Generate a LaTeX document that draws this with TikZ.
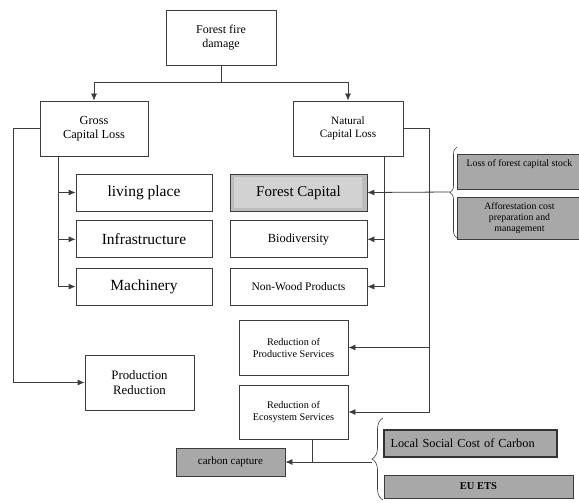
\documentclass[tikz,border=0pt]{standalone}
\usepackage{fontspec}
\setmainfont{Liberation Serif}
\usetikzlibrary{arrows.meta,positioning,decorations.pathreplacing}

\definecolor{linegray}{HTML}{3C3C3C}
\definecolor{darkfill}{HTML}{A8A8A8}
\definecolor{midfill}{HTML}{BDBDBD}
\definecolor{lightfill}{HTML}{D2D2D2}

\tikzset{
  box/.style={draw=linegray,line width=0.8pt,fill=white,align=center,inner sep=2pt},
  bigbox/.style={box,minimum width=136pt,minimum height=37pt,font=\fontsize{15.5}{17}\selectfont},
  greybox/.style={box,fill=darkfill},
  conn/.style={draw=linegray,line width=0.8pt},
  arr/.style={conn,-{Latex[length=7pt,width=6pt]}},
  curly/.style={conn,line width=0.6pt,decorate,decoration={brace}}
}

\begin{document}
\begin{tikzpicture}[x=1pt,y=-1pt]
\useasboundingbox (0,0) rectangle (579,503);

% top level
\node[box,minimum width=110pt,minimum height=55pt,font=\fontsize{12}{14}\selectfont] (fire) at (221,37.5) {Forest fire\\damage};
\node[box,minimum width=108pt,minimum height=55pt,font=\fontsize{12.3}{14}\selectfont] (gross) at (94,128.5) {Gross\\Capital Loss};
\node[box,minimum width=110pt,minimum height=55pt,font=\fontsize{11.2}{13}\selectfont] (natural) at (348,128.5) {Natural\\Capital Loss};

% gross capital column
\node[bigbox] (living) at (144,192.5) {living place};
\node[bigbox,below = 9pt of living] (infra) {Infrastructure};
\node[bigbox,below = 9.5pt of infra] (mach) {Machinery};
\node[box,minimum width=109pt,minimum height=55pt,font=\fontsize{12.8}{14.5}\selectfont] (prodred) at (139.5,382.5) {Production\\Reduction};

% natural capital column
\node[bigbox,minimum width=137pt,fill=midfill,font=\fontsize{15}{17}\selectfont,
  path picture={\fill[lightfill] ([shift={(4pt,-3pt)}]path picture bounding box.north west) rectangle ([shift={(-5pt,3pt)}]path picture bounding box.south east);}] (forestcap) at (298.5,192.5) {Forest Capital};
\node[bigbox,minimum width=137pt,font=\fontsize{12.4}{14}\selectfont,below = 9pt of forestcap] (bio) {Biodiversity};
\node[bigbox,minimum width=137pt,font=\fontsize{11.5}{13}\selectfont,below = 9.5pt of bio] (nonwood) {Non-Wood Products};
\node[box,minimum width=109pt,minimum height=55pt,font=\fontsize{10.2}{12}\selectfont] (redprod) at (293.5,347.5) {Reduction of\\Productive Services};
\node[box,minimum width=109pt,minimum height=54pt,font=\fontsize{10.2}{12}\selectfont] (redeco) at (293.5,412) {Reduction of\\Ecosystem Services};
\node[greybox,minimum width=109pt,minimum height=28pt,font=\fontsize{11}{13}\selectfont] (carbon) at (230.5,462) {carbon capture};

% cost boxes on the right
\node[greybox,minimum width=125pt,minimum height=35pt,font=\fontsize{9.8}{11}\selectfont] (stock) at (519.5,171.5) {Loss of forest capital stock\\[5pt]\mbox{}};
\node[greybox,minimum width=125pt,minimum height=42pt,font=\fontsize{9.8}{11}\selectfont] (afforest) at (519.5,218) {Afforestation cost\\preparation and\\management};
\node[greybox,line width=1.3pt,draw=black!80,minimum width=173pt,minimum height=27pt,font=\fontsize{12.3}{14}\selectfont,text width=160pt,align=left] (social) at (470.5,443.5) {Local Social Cost of Carbon};
\node[greybox,minimum width=189pt,minimum height=23pt,font=\bfseries\fontsize{10.5}{12}\selectfont] (ets) at (478.5,486.5) {EU ETS};

% braces
\draw[curly,decoration={amplitude=7pt}] (457,238) -- (457,147);
\coordinate (b1tip) at (450,192);
\draw[curly,decoration={amplitude=11pt}] (383,500) -- (383,418);
\coordinate (b2tip) at (372,462);

% connectors
\coordinate (split) at (221,82);
\draw[conn] (fire.south) -- (split);
\draw[arr] (split) -| (gross.north);
\draw[arr] (split) -| (natural.north);

\coordinate (gtrunk) at (58,156);
\draw[arr] (gtrunk) |- (mach.west);
\draw[arr] (gtrunk |- living.west) -- (living.west);
\draw[arr] (gtrunk |- infra.west) -- (infra.west);
\draw[arr] (gross.west) -- (13,128.5) |- (prodred.west);

\coordinate (ntrunk) at (384,156);
\draw[arr] (ntrunk) |- (nonwood.east);
\draw[arr] (ntrunk |- bio.east) -- (bio.east);
\coordinate (nouter) at (429,128.5);
\draw[arr] (natural.east) -- (nouter) |- (redeco.east);
\draw[arr] (nouter |- redprod.east) -- (redprod.east);

\draw[arr] (b1tip) -- (forestcap.east);
\coordinate (ecodrop) at (312,439);
\draw[conn] (ecodrop) -- (312,462);
\draw[arr] (b2tip) -- (carbon.east);
\end{tikzpicture}
\end{document}
